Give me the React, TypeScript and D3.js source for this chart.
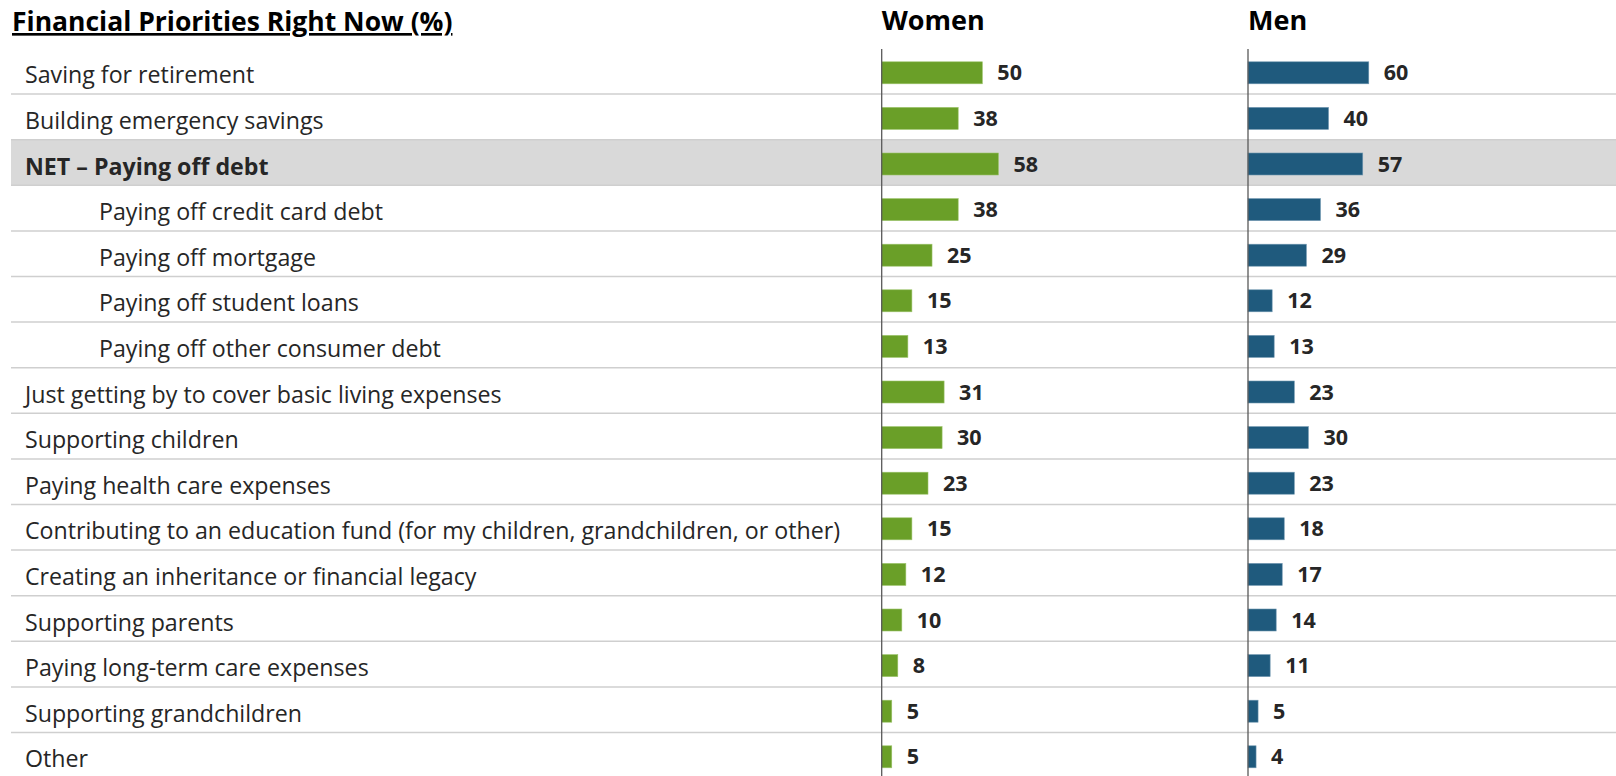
import React from 'react';
import * as d3 from 'd3';

const categories = [
  'Saving for retirement',
  'Building emergency savings',
  'NET – Paying off debt',
  'Paying off credit card debt',
  'Paying off mortgage',
  'Paying off student loans',
  'Paying off other consumer debt',
  'Just getting by to cover basic living expenses',
  'Supporting children',
  'Paying health care expenses',
  'Contributing to an education fund (for my children, grandchildren, or other)',
  'Creating an inheritance or financial legacy',
  'Supporting parents',
  'Paying long-term care expenses',
  'Supporting grandchildren',
  'Other',
];
const indented = [
  'Paying off credit card debt',
  'Paying off mortgage',
  'Paying off student loans',
  'Paying off other consumer debt',
];
const highlighted = ['NET – Paying off debt'];
const women = [50, 38, 58, 38, 25, 15, 13, 31, 30, 23, 15, 12, 10, 8, 5, 5];
const men = [60, 40, 57, 36, 29, 12, 13, 23, 30, 23, 18, 17, 14, 11, 5, 4];

const W = 1616;
const H = 776;
const FONT = '"Open Sans", Lato, sans-serif';

export default function App() {
  const y = d3
    .scaleBand<string>()
    .domain(categories)
    .range([48.5, 48.5 + categories.length * 45.6])
    .padding(0);
  const x = d3.scaleLinear().domain([0, 100]).range([0, 201.3]);
  const barH = 22;
  const mid = (c: string) => (y(c) as number) + y.bandwidth() / 2;

  const panels = [
    { title: 'Women', x0: 881.7, values: women, color: '#6a9f28', edge: '#9cc46a' },
    { title: 'Men', x0: 1248, values: men, color: '#1f5a7d', edge: '#6f96b0' },
  ];

  return (
    <svg
      width={W}
      height={H}
      style={{ position: 'absolute', left: 0, top: 0, background: '#fff' }}
      fontFamily={FONT}
    >
      {/* highlight band */}
      {highlighted.map((c) => (
        <rect key={c} x={11} y={y(c)} width={W - 11} height={y.bandwidth()} fill="#d9d9d9" />
      ))}

      {/* row separators */}
      {categories.slice(0, -1).map((c) => (
        <line
          key={c}
          x1={11}
          x2={W}
          y1={(y(c) as number) + y.bandwidth()}
          y2={(y(c) as number) + y.bandwidth()}
          stroke="#cfcfcf"
          strokeWidth={1.5}
        />
      ))}

      {/* title */}
      <text x={12} y={31} fontSize={26.5} fontWeight={700} fill="#000" textDecoration="underline">
        Financial Priorities Right Now (%)
      </text>

      {/* row labels */}
      {categories.map((c) => (
        <text
          key={c}
          x={indented.includes(c) ? 99 : 25}
          y={mid(c) + 12}
          fontSize={23.2}
          fontWeight={highlighted.includes(c) ? 700 : 400}
          fill="#262626"
        >
          {c}
        </text>
      ))}

      {panels.map((p) => (
        <g key={p.title}>
          <text x={p.x0} y={30} fontSize={27} fontWeight={700} fill="#000">
            {p.title}
          </text>
          {categories.map((c, i) => {
            const cy = mid(c) + 1.5;
            const w = x(p.values[i]);
            return (
              <g key={c}>
                <rect
                  x={p.x0}
                  y={cy - barH / 2}
                  width={w}
                  height={barH}
                  fill={p.color}
                  stroke={p.edge}
                  strokeWidth={0.6}
                />
                <text
                  x={p.x0 + w + 15}
                  y={cy + 7.6}
                  fontSize={21.5}
                  fontWeight={700}
                  fill="#262626"
                >
                  {p.values[i]}
                </text>
              </g>
            );
          })}
          <line x1={p.x0} x2={p.x0} y1={49} y2={H} stroke="#595959" strokeWidth={1.3} />
        </g>
      ))}
    </svg>
  );
}
